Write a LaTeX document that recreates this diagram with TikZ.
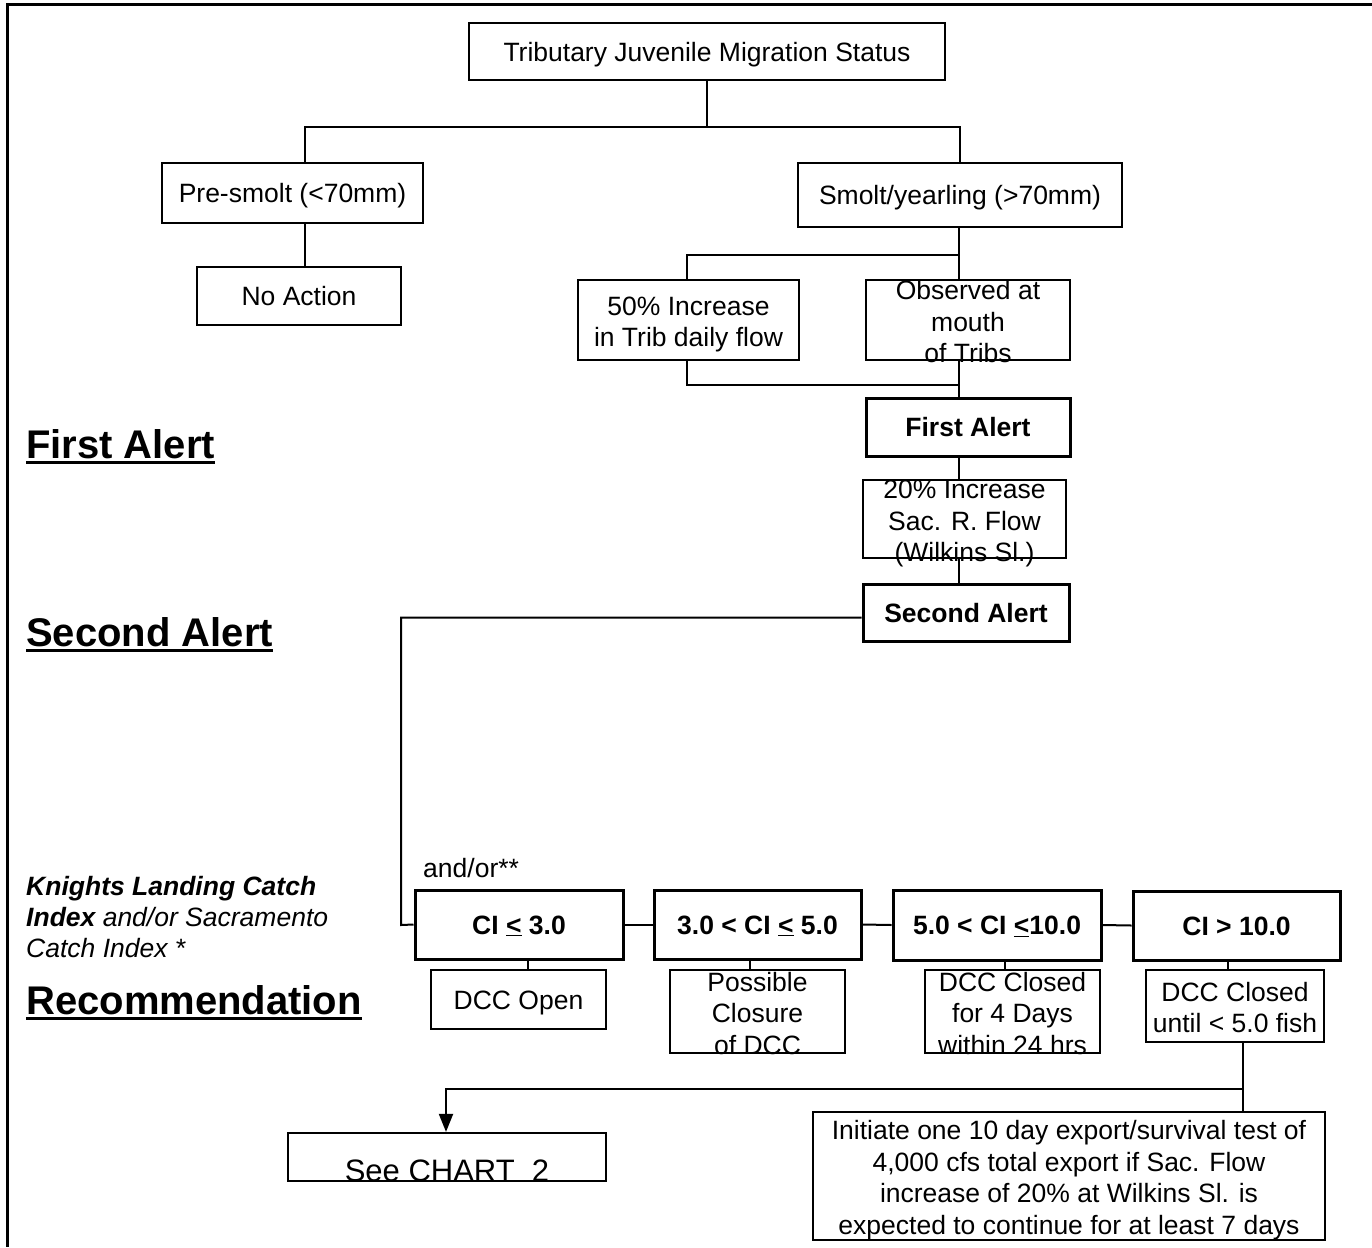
\documentclass[tikz,border=0pt]{standalone}
\usepackage{fontspec}
\setmainfont{Liberation Sans}
\usetikzlibrary{arrows.meta}
\newcommand\spill[1]{\smash{\raisebox{\dimexpr-0.25em-4.5pt\relax}{\begin{tabular}{@{}c@{}}#1\end{tabular}}}}
\newcommand\myul[1]{\setbox0\hbox{#1}\rlap{\rule[-6pt]{\wd0}{3pt}}\box0}
\begin{document}
\begin{tikzpicture}[x=1pt,y=-1pt,
  box/.style={draw, line width=2.2pt, inner sep=0pt, align=center,
    font=\fontsize{26.5}{31.5}\selectfont, text height=19pt, text depth=0pt},
  bbox/.style={box, line width=3pt, font=\fontsize{26.5}{31.5}\selectfont\bfseries},
  spillbox/.style={box, text height=0pt, text depth=0pt},
  conn/.style={line width=2pt},
  heading/.style={anchor=base west, inner sep=0pt, font=\fontsize{40}{46}\selectfont\bfseries}]
\useasboundingbox (0,0) rectangle (1372,1247);
\fill[white] (0,0) rectangle (1372,1247);
% frame
\draw[line width=3pt] (1372,5) -- (7,5) -- (7,1247);

% boxes
\node[box, minimum width=476, minimum height=57] (top) at (707,51.5) {Tributary Juvenile Migration Status};
\node[box, minimum width=261, minimum height=60] (pre) at (292.5,193) {Pre-smolt (<70mm)};
\node[box, minimum width=324, minimum height=64] (smolt) at (960,195) {Smolt/yearling (>70mm)};
\node[box, minimum width=204, minimum height=58] (noact) at (299,296) {No Action};
\node[spillbox, minimum width=221, minimum height=80] (inc50) at (688.5,320) {\spill{50\% Increase\\in Trib daily flow}};
\node[spillbox, minimum width=204, minimum height=80] (obs) at (968,320) {\spill{Observed at\\mouth\\of Tribs}};
\node[bbox, minimum width=204, minimum height=58] (fa) at (968,427) {First Alert};
\node[spillbox, minimum width=203, minimum height=78] (inc20) at (964.5,519) {\spill{20\% Increase\\Sac. R. Flow\\(Wilkins Sl.)}};
\node[bbox, minimum width=206, minimum height=57] (sa) at (966,612.5) {Second Alert};

\node[bbox, minimum width=208, minimum height=69] (ci1) at (519,924.5) {CI \underline{<} 3.0};
\node[bbox, minimum width=207, minimum height=69] (ci2) at (757.5,924.5) {3.0 < CI \underline{<} 5.0};
\node[bbox, minimum width=208, minimum height=70] (ci3) at (997,925) {5.0 < CI \underline{<}10.0};
\node[bbox, minimum width=207, minimum height=69] (ci4) at (1236.5,925.5) {CI > 10.0};

\node[box, minimum width=175, minimum height=59] (r1) at (518.5,999.5) {DCC Open};
\node[spillbox, minimum width=175, minimum height=83] (r2) at (757.5,1011.5) {\spill{Possible\\Closure\\of DCC}};
\node[spillbox, minimum width=175, minimum height=83] (r3) at (1012.5,1011.5) {\spill{DCC Closed\\for 4 Days\\within 24 hrs}};
\node[spillbox, minimum width=178, minimum height=72] (r4) at (1235,1006) {\spill{DCC Closed\\until < 5.0 fish}};

\node[spillbox, minimum width=318, minimum height=48, font=\fontsize{31}{36}\selectfont] (chart) at (447,1157) {\smash{\raisebox{-24pt}{See CHART\ \ 2}}};
\node[spillbox, minimum width=512, minimum height=128] (init) at (1069,1176) {\spill{Initiate one 10 day export/survival test of\\4,000 cfs total export if Sac. Flow\\increase of 20\% at Wilkins Sl. is\\expected to continue for at least 7 days}};

% left labels
\node[heading] (h1) at (26,458) {\myul{First Alert}};
\node[heading] (h2) at (26,646) {\myul{Second Alert}};
\node[heading] (h3) at (26,1014) {\myul{Recommendation}};
\node[anchor=north west, inner sep=0pt, align=left, font=\fontsize{26.5}{31}\selectfont\itshape] (ki) at (26,876)
  {\textbf{Knights Landing Catch}\\\textbf{Index} and/or Sacramento\\Catch Index *};
\node[anchor=base west, inner sep=0pt, font=\fontsize{26.5}{31.5}\selectfont] (andor) at (423,877) {and/or**};

% connectors
\coordinate (j1) at (707,127);
\draw[conn] (top.south) -- (j1);
\draw[conn] (j1) -| ([xshift=12.5pt]pre.north);
\draw[conn] (j1) -| (smolt.north);
\draw[conn] ([xshift=12.5pt]pre.south) -- ([xshift=12.5pt]pre.south |- noact.north);

\coordinate (j2) at (959,255);
\draw[conn] (smolt.south -| j2) -- (j2);
\draw[conn] (j2) -| ([xshift=-1.5pt]inc50.north);
\draw[conn] (j2) -- (j2 |- obs.north);

\coordinate (j3) at (959,385);
\draw[conn] ([xshift=-1.5pt]inc50.south) |- (j3);
\draw[conn] (obs.south -| j3) -- (fa.north -| j3);
\draw[conn] (fa.south -| j3) -- (inc20.north -| j3);
\draw[conn] (inc20.south -| j3) -- (sa.north -| j3);

\coordinate (j4) at (401,925);
\draw[conn] ([yshift=-5pt]sa.west) -| (j4) -- (ci1.west);
\draw[conn] (ci1.east) -- (ci2.west);
\draw[conn] (ci2.east) -- (ci3.west);
\draw[conn] (ci3.east) -- (ci4.west);

\draw[conn] ([xshift=9pt]ci1.south) -- ([xshift=9pt]ci1.south |- r1.north);
\draw[conn] ([xshift=-7.5pt]ci2.south) -- ([xshift=-7.5pt]ci2.south |- r2.north);
\draw[conn] ([xshift=8pt]ci3.south) -- ([xshift=8pt]ci3.south |- r3.north);
\draw[conn] ([xshift=-8.5pt]ci4.south) -- ([xshift=-8.5pt]ci4.south |- r4.north);

\coordinate (j5) at (1243,1089);
\draw[conn] (r4.south -| j5) -- (j5) -- (init.north -| j5);
\draw[conn, -{Triangle[width=14pt,length=18pt]}] (j5) -| (chart.north -| 446,0);
\end{tikzpicture}
\end{document}
